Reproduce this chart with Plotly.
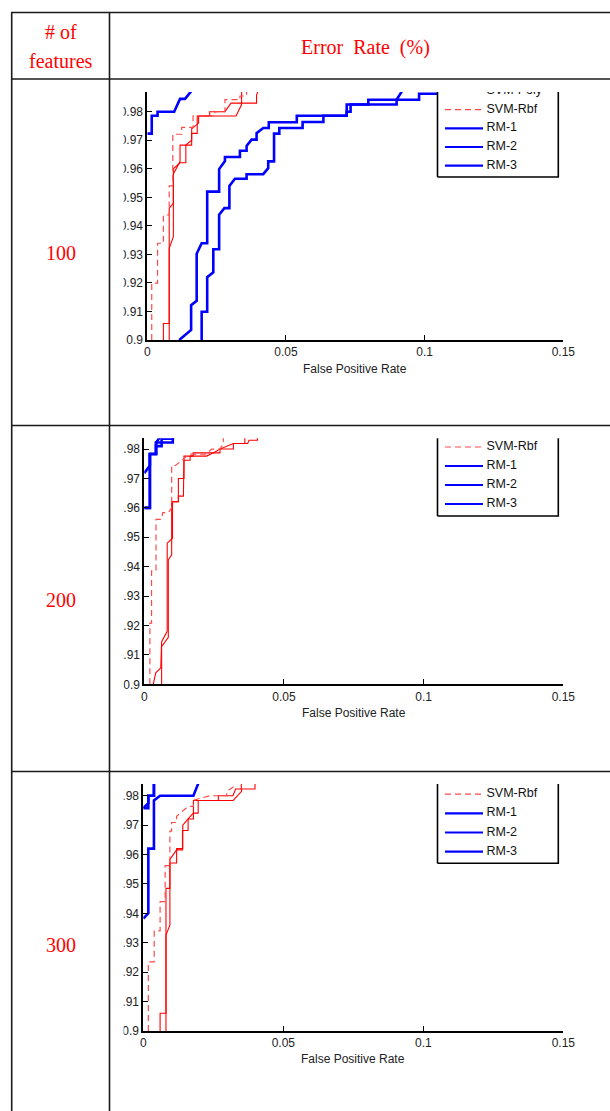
import plotly.graph_objects as go

W, H = 610, 1111

# ------------------------------------------------------------------ data
# ROC curves: x = false positive rate, y = true positive rate
# (segments hidden under the y axis line are left out)
# ---------------- 100 features
f100_svm_a_x = [0.0079, 0.0079, 0.0094, 0.0094, 0.0118, 0.0118, 0.0160, 0.0160, 0.0180, 0.0180, 0.0320, 0.0340, 0.0340, 0.0360]
f100_svm_a_y = [0.9000, 0.9321, 0.9362, 0.9582, 0.9625, 0.9683, 0.9683, 0.9724, 0.9724, 0.9785, 0.9785, 0.9825, 0.9867, 0.9950]
f100_svm_poly_x = [0.0058, 0.0058, 0.0079, 0.0079, 0.0094, 0.0094, 0.0118, 0.0139, 0.0139, 0.0160, 0.0160, 0.0185, 0.0185, 0.0225, 0.0225, 0.0280, 0.0302, 0.0394, 0.0394, 0.0410]
f100_svm_poly_y = [0.9000, 0.9058, 0.9058, 0.9461, 0.9480, 0.9600, 0.9621, 0.9621, 0.9683, 0.9700, 0.9740, 0.9760, 0.9785, 0.9785, 0.9800, 0.9800, 0.9830, 0.9830, 0.9858, 0.9900]
f100_svm_rbf_x = [0.0016, 0.0016, 0.0037, 0.0037, 0.0058, 0.0058, 0.0079, 0.0079, 0.0092, 0.0092, 0.0124, 0.0124, 0.0165, 0.0165, 0.0244, 0.0244, 0.0280, 0.0280, 0.0334, 0.0334, 0.0358, 0.0358]
f100_svm_rbf_y = [0.9000, 0.9199, 0.9199, 0.9339, 0.9339, 0.9438, 0.9438, 0.9540, 0.9540, 0.9721, 0.9721, 0.9745, 0.9745, 0.9785, 0.9785, 0.9800, 0.9800, 0.9842, 0.9842, 0.9855, 0.9855, 0.9950]
f100_rm1_x = [0.0000, 0.0016, 0.0016, 0.0037, 0.0037, 0.0097, 0.0118, 0.0136, 0.0157, 0.0170]
f100_rm1_y = [0.9723, 0.9723, 0.9786, 0.9786, 0.9800, 0.9800, 0.9845, 0.9845, 0.9870, 0.9890]
f100_rm2_x = [0.0115, 0.0158, 0.0158, 0.0178, 0.0178, 0.0196, 0.0216, 0.0216, 0.0259, 0.0259, 0.0280, 0.0280, 0.0334, 0.0334, 0.0358, 0.0358,
              0.0376, 0.0394, 0.0394, 0.0418, 0.0438, 0.0438, 0.0539, 0.0539, 0.0719, 0.0719, 0.0797, 0.0797, 0.0899, 0.0915, 0.0930]
f100_rm2_y = [0.9000, 0.9035, 0.9122, 0.9137, 0.9302, 0.9339, 0.9339, 0.9520, 0.9520, 0.9599, 0.9627, 0.9641, 0.9641, 0.9663, 0.9663, 0.9680,
              0.9702, 0.9702, 0.9725, 0.9743, 0.9743, 0.9763, 0.9763, 0.9786, 0.9786, 0.9825, 0.9825, 0.9842, 0.9842, 0.9868, 0.9890]
f100_rm3_x = [0.0196, 0.0196, 0.0216, 0.0216, 0.0238, 0.0238, 0.0259, 0.0259, 0.0278, 0.0296, 0.0296, 0.0316, 0.0358, 0.0358, 0.0418, 0.0436, 0.0436, 0.0457,
              0.0457, 0.0476, 0.0476, 0.0560, 0.0560, 0.0635, 0.0635, 0.0719, 0.0719, 0.0733, 0.0733, 0.0899, 0.0899, 0.0980, 0.0980, 0.1150, 0.1150]
f100_rm3_y = [0.9000, 0.9099, 0.9099, 0.9220, 0.9237, 0.9318, 0.9318, 0.9439, 0.9462, 0.9462, 0.9540, 0.9565, 0.9565, 0.9581, 0.9581, 0.9602, 0.9626, 0.9626,
              0.9723, 0.9723, 0.9743, 0.9743, 0.9764, 0.9764, 0.9786, 0.9786, 0.9800, 0.9800, 0.9825, 0.9825, 0.9842, 0.9842, 0.9863, 0.9863, 0.9950]

# ---------------- 200 features
f200_svm_a_x = [0.0062, 0.0062, 0.0086, 0.0086, 0.0098, 0.0098, 0.0122, 0.0122, 0.0140, 0.0140, 0.0142, 0.0164, 0.0164, 0.0223, 0.0247, 0.0271, 0.0271, 0.0319, 0.0360, 0.0360]
f200_svm_a_y = [0.9000, 0.9128, 0.9160, 0.9423, 0.9440, 0.9621, 0.9621, 0.9640, 0.9640, 0.9700, 0.9762, 0.9762, 0.9776, 0.9776, 0.9787, 0.9787, 0.9800, 0.9819, 0.9819, 0.9950]
f200_svm_poly_x = [0.0032, 0.0041, 0.0059, 0.0062, 0.0082, 0.0082, 0.0101, 0.0101, 0.0122, 0.0122, 0.0142, 0.0142, 0.0175, 0.0175, 0.0247, 0.0271, 0.0319, 0.0319, 0.0370, 0.0375, 0.0405, 0.0405]
f200_svm_poly_y = [0.9000, 0.9039, 0.9056, 0.9145, 0.9180, 0.9480, 0.9497, 0.9621, 0.9621, 0.9700, 0.9700, 0.9776, 0.9776, 0.9787, 0.9787, 0.9800, 0.9800, 0.9819, 0.9819, 0.9830, 0.9830, 0.9950]
f200_svm_rbf_x = [0.0020, 0.0020, 0.0026, 0.0026, 0.0042, 0.0042, 0.0062, 0.0066, 0.0086, 0.0098, 0.0098, 0.0112, 0.0161, 0.0223, 0.0241, 0.0271, 0.0283, 0.0283]
f200_svm_rbf_y = [0.9000, 0.9208, 0.9208, 0.9386, 0.9386, 0.9561, 0.9561, 0.9584, 0.9584, 0.9600, 0.9744, 0.9744, 0.9783, 0.9783, 0.9800, 0.9800, 0.9819, 0.9950]
f200_rm1_x = [0.0000, 0.0020, 0.0020, 0.0042, 0.0042, 0.0102, 0.0102]
f200_rm1_y = [0.9600, 0.9600, 0.9783, 0.9783, 0.9822, 0.9822, 0.9950]
f200_rm2_x = [0.0000, 0.0020, 0.0020, 0.0042, 0.0042, 0.0062, 0.0062, 0.0102, 0.0102]
f200_rm2_y = [0.9718, 0.9744, 0.9783, 0.9783, 0.9810, 0.9810, 0.9835, 0.9835, 0.9950]
f200_rm3_x = [0.0000, 0.0020, 0.0020, 0.0042, 0.0042, 0.0056, 0.0062]
f200_rm3_y = [0.9600, 0.9600, 0.9783, 0.9783, 0.9822, 0.9840, 0.9950]

# ---------------- 300 features
f300_svm_a_x = [0.0081, 0.0081, 0.0095, 0.0095, 0.0119, 0.0140, 0.0140, 0.0160, 0.0160, 0.0179, 0.0179, 0.0321, 0.0351, 0.0351, 0.0399, 0.0399]
f300_svm_a_y = [0.9000, 0.9326, 0.9360, 0.9583, 0.9616, 0.9616, 0.9682, 0.9682, 0.9721, 0.9721, 0.9784, 0.9784, 0.9815, 0.9823, 0.9823, 0.9950]
f300_svm_poly_x = [0.0060, 0.0060, 0.0081, 0.0081, 0.0095, 0.0095, 0.0119, 0.0119, 0.0141, 0.0141, 0.0160, 0.0179, 0.0196, 0.0196, 0.0268, 0.0268, 0.0320, 0.0330, 0.0350, 0.0350]
f300_svm_poly_y = [0.9000, 0.9060, 0.9060, 0.9485, 0.9485, 0.9571, 0.9571, 0.9620, 0.9620, 0.9700, 0.9721, 0.9741, 0.9741, 0.9784, 0.9784, 0.9800, 0.9800, 0.9823, 0.9823, 0.9950]
f300_svm_rbf_x = [0.0018, 0.0018, 0.0039, 0.0039, 0.0060, 0.0060, 0.0078, 0.0078, 0.0095, 0.0095, 0.0101, 0.0101, 0.0119, 0.0119, 0.0160, 0.0179, 0.0179, 0.0238, 0.0298, 0.0298, 0.0321, 0.0321]
f300_svm_rbf_y = [0.9000, 0.9235, 0.9235, 0.9340, 0.9340, 0.9440, 0.9440, 0.9562, 0.9562, 0.9680, 0.9680, 0.9709, 0.9709, 0.9730, 0.9764, 0.9764, 0.9785, 0.9800, 0.9800, 0.9815, 0.9830, 0.9950]
f300_rm1_x = [0.0000, 0.0018, 0.0018, 0.0038, 0.0038, 0.0060, 0.0179, 0.0196, 0.0210]
f300_rm1_y = [0.9382, 0.9400, 0.9620, 0.9620, 0.9784, 0.9800, 0.9800, 0.9841, 0.9900]
f300_rm2_x = [0.0000, 0.0018, 0.0018, 0.0038, 0.0038]
f300_rm2_y = [0.9758, 0.9758, 0.9800, 0.9800, 0.9950]
f300_rm3_x = [0.0000, 0.0018, 0.0018, 0.0038, 0.0038]
f300_rm3_y = [0.9758, 0.9775, 0.9800, 0.9800, 0.9950]

row_labels = ["100", "200", "300"]
header_left = ["# of", "features"]
header_right = "Error  Rate  (%)"
x_title = "False Positive Rate"
legend_names = ["SVM-Poly", "SVM-Rbf", "RM-1", "RM-2", "RM-3"]
x_tickvals = [0, 0.05, 0.1, 0.15]
y_tickvals = [0.90, 0.91, 0.92, 0.93, 0.94, 0.95, 0.96, 0.97, 0.98]

series = {
    "100": [(f100_svm_a_x, f100_svm_a_y, "SVM (solid)"), (f100_svm_poly_x, f100_svm_poly_y, "SVM-Poly"),
            (f100_svm_rbf_x, f100_svm_rbf_y, "SVM-Rbf"), (f100_rm1_x, f100_rm1_y, "RM-1"),
            (f100_rm2_x, f100_rm2_y, "RM-2"), (f100_rm3_x, f100_rm3_y, "RM-3")],
    "200": [(f200_svm_a_x, f200_svm_a_y, "SVM (solid)"), (f200_svm_poly_x, f200_svm_poly_y, "SVM-Poly"),
            (f200_svm_rbf_x, f200_svm_rbf_y, "SVM-Rbf"), (f200_rm1_x, f200_rm1_y, "RM-1"),
            (f200_rm2_x, f200_rm2_y, "RM-2"), (f200_rm3_x, f200_rm3_y, "RM-3")],
    "300": [(f300_svm_a_x, f300_svm_a_y, "SVM (solid)"), (f300_svm_poly_x, f300_svm_poly_y, "SVM-Poly"),
            (f300_svm_rbf_x, f300_svm_rbf_y, "SVM-Rbf"), (f300_rm1_x, f300_rm1_y, "RM-1"),
            (f300_rm2_x, f300_rm2_y, "RM-2"), (f300_rm3_x, f300_rm3_y, "RM-3")],
}

# ------------------------------------------------------------------ styles / layout (pixels)
RED = "#ff0000"
RED_DASH = "#ff4a4a"
BLUE = "#0000ff"
styles = {
    "SVM (solid)": dict(color=RED, width=1.1),
    "SVM-Poly": dict(color=RED, width=1.1),
    "SVM-Rbf": dict(color=RED_DASH, width=1.2, dash="6px,4px"),
    "RM-1": dict(color=BLUE, width=2.6),
    "RM-2": dict(color=BLUE, width=2.6),
    "RM-3": dict(color=BLUE, width=2.6),
}
legend_styles = [
    dict(color=RED, width=1.1),
    dict(color=RED_DASH, width=1.2, dash="6px,4px"),
    dict(color=BLUE, width=2.2),
    dict(color=BLUE, width=2.2),
    dict(color=BLUE, width=2.2),
]

PANELS = [
    dict(label="100", x0=147.3, x1=563.3, ytop=92.0, ybot=340.0, ymax=0.9869, label_py=253,
         leg_last_py=165.7, leg_step=18.7, leg_bottom_py=177.0),
    dict(label="200", x0=144.3, x1=563.3, ytop=438.3, ybot=684.3, ymax=0.98365, label_py=600,
         leg_last_py=504.0, leg_step=19.0, leg_bottom_py=516.0),
    dict(label="300", x0=143.3, x1=563.3, ytop=784.0, ybot=1030.9, ymax=0.9840, label_py=945,
         leg_last_py=851.7, leg_step=19.2, leg_bottom_py=863.3),
]
LEG_LEFT, LEG_RIGHT = 437.5, 558.3
LEG_LINE0, LEG_LINE1, LEG_TEXT = 445.0, 483.0, 486.5
XMAX = 0.15

SANS = "Liberation Sans, Arial, sans-serif"
SERIF = "Liberation Serif, Times New Roman, serif"

fig = go.Figure()
layout = dict(template="none", width=W, height=H, autosize=False, margin=dict(l=0, r=0, t=0, b=0, pad=0),
              paper_bgcolor="white", plot_bgcolor="white", showlegend=False, shapes=[], annotations=[],
              font=dict(family=SANS, size=12, color="#222"))


def px_x(p, px):
    return (px - p["x0"]) / (p["x1"] - p["x0"]) * XMAX


def px_y(p, py):
    return 0.9 + (p["ybot"] - py) / (p["ybot"] - p["ytop"]) * (p["ymax"] - 0.9)


def note(text, px, py, family, size, color):
    return dict(text=text, xref="paper", yref="paper", x=px / W, y=1 - py / H, showarrow=False,
                xanchor="center", yanchor="middle", font=dict(family=family, size=size, color=color))


for i, p in enumerate(PANELS, start=1):
    xa, ya = f"x{i}", f"y{i}"
    xk, yk = ("xaxis" if i == 1 else f"xaxis{i}"), ("yaxis" if i == 1 else f"yaxis{i}")
    rk = f"yaxis{i + 3}"
    common = dict(showgrid=False, zeroline=False, showline=True, linecolor="black", linewidth=1.8,
                  ticks="inside", ticklen=5, tickwidth=1, tickcolor="black", fixedrange=True, automargin=False,
                  tickfont=dict(family=SANS, size=12, color="#222"))
    layout[xk] = dict(common, domain=[p["x0"] / W, p["x1"] / W], range=[0, XMAX], anchor=ya,
                      tickvals=x_tickvals, ticktext=["0", "0.05", "0.1", "0.15"])
    layout[yk] = dict(common, domain=[1 - p["ybot"] / H, 1 - p["ytop"] / H], range=[0.9, p["ymax"]],
                      anchor=xa, tickvals=y_tickvals, ticktext=[f"{v:g}" for v in y_tickvals])
    layout[rk] = dict(common, overlaying=ya, side="right", anchor=xa, range=[0.9, p["ymax"]],
                      tickvals=y_tickvals, showticklabels=False)

    # data
    for xs, ys, name in series[p["label"]]:
        fig.add_trace(go.Scatter(x=xs, y=ys, mode="lines", name=name, line=styles[name],
                                 xaxis=xa, yaxis=ya, hoverinfo="skip"))

    # opaque legend box (Matlab style), clipped by the cropped axes
    bx0, bx1 = px_x(p, LEG_LEFT), px_x(p, LEG_RIGHT)
    by0, by1 = px_y(p, p["leg_bottom_py"]), px_y(p, p["ytop"] - 40)
    fig.add_trace(go.Scatter(x=[bx0, bx1, bx1, bx0, bx0], y=[by0, by0, by1, by1, by0], mode="lines",
                             fill="toself", fillcolor="white", line=dict(color="black", width=1.6),
                             xaxis=xa, yaxis=ya, hoverinfo="skip"))
    n = len(legend_names)
    ty = [px_y(p, p["leg_last_py"] - (n - 1 - k) * p["leg_step"]) for k in range(n)]
    for k in range(n):
        fig.add_trace(go.Scatter(x=[px_x(p, LEG_LINE0), px_x(p, LEG_LINE1)], y=[ty[k], ty[k]], mode="lines",
                                 line=legend_styles[k], xaxis=xa, yaxis=ya, hoverinfo="skip"))
    fig.add_trace(go.Scatter(x=[px_x(p, LEG_TEXT)] * n, y=ty, mode="text", text=legend_names,
                             textposition="middle right", cliponaxis=True,
                             textfont=dict(family=SANS, size=12.5, color="#111"),
                             xaxis=xa, yaxis=ya, hoverinfo="skip"))

    layout["annotations"].append(note(x_title, (p["x0"] + p["x1"]) / 2, p["ybot"] + 28.5, SANS, 12, "#222"))
    layout["annotations"].append(note(p["label"], 61, p["label_py"], SERIF, 20, "#ff0000"))
    # the plot images were cropped: hide the left part of the tick labels
    layout["shapes"].append(dict(type="rect", xref="paper", yref="paper", layer="above",
                                 x0=110.4 / W, x1=123.6 / W, y0=1 - (p["ybot"] + 12) / H, y1=1 - (p["ytop"] - 8) / H,
                                 fillcolor="white", line=dict(width=0)))

# header texts
layout["annotations"].append(note(header_left[0], 61, 32, SERIF, 20, "#ff0000"))
layout["annotations"].append(note(header_left[1], 61, 61.5, SERIF, 20, "#ff0000"))
layout["annotations"].append(note(header_right, 365, 47, SERIF, 20, "#ff0000"))

# table rules
TL = dict(color="#1a1a1a", width=1.6)
for yy in [12.5, 79.0, 425.5, 771.5]:
    layout["shapes"].append(dict(type="line", xref="paper", yref="paper", layer="above",
                                 x0=11 / W, x1=1.0, y0=1 - yy / H, y1=1 - yy / H, line=TL))
for xx in [11.7, 109.5]:
    layout["shapes"].append(dict(type="line", xref="paper", yref="paper", layer="above",
                                 x0=xx / W, x1=xx / W, y0=1 - 12.5 / H, y1=0, line=TL))

fig.update_layout(**layout)
fig.write_html("out.html", config={"displayModeBar": False, "responsive": False},
               post_script="document.body.style.margin='0';document.body.style.overflow='hidden';")
